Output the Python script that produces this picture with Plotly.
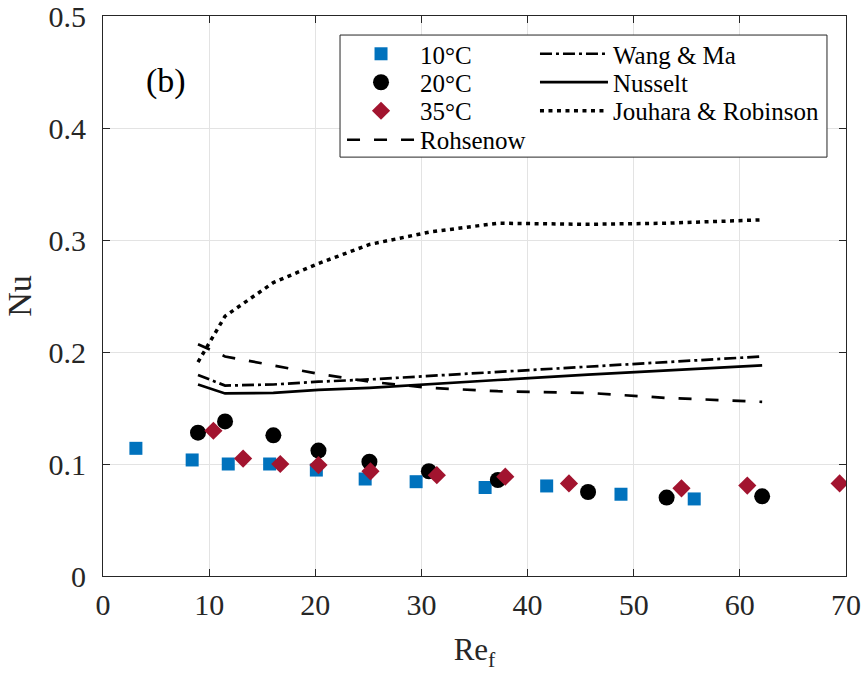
import plotly.graph_objects as go

# ---- data ----
re_10 = [3.1, 8.4, 11.8, 15.7, 20.1, 24.7, 29.5, 36.0, 41.8, 48.8, 55.7]
nu_10 = [0.114, 0.1036, 0.100, 0.100, 0.0946, 0.0866, 0.0842, 0.079, 0.0804, 0.073, 0.0688]

re_20 = [8.95, 11.5, 16.05, 20.3, 25.1, 30.7, 37.2, 45.7, 53.1, 62.1]
nu_20 = [0.128, 0.138, 0.1256, 0.112, 0.102, 0.0935, 0.0857, 0.075, 0.070, 0.0711]

re_35 = [10.4, 13.2, 16.7, 20.3, 25.2, 31.45, 37.9, 43.9, 54.5, 60.7, 69.4]
nu_35 = [0.1297, 0.1048, 0.100, 0.099, 0.0935, 0.090, 0.0887, 0.0827, 0.0783, 0.0807, 0.0827]

re_model = [8.95, 11.5, 16.05, 20.3, 25.1, 30.7, 37.2, 45.7, 53.1, 62.1]
nu_rohsenow = [0.207, 0.196, 0.188, 0.1805, 0.1735, 0.168, 0.165, 0.1635, 0.159, 0.1555]
nu_wang_ma = [0.1795, 0.170, 0.171, 0.1735, 0.1755, 0.1785, 0.182, 0.187, 0.191, 0.196]
nu_nusselt = [0.171, 0.163, 0.1635, 0.1662, 0.168, 0.171, 0.175, 0.1798, 0.1835, 0.188]
nu_jouhara = [0.191, 0.232, 0.262, 0.279, 0.296, 0.307, 0.315, 0.314, 0.315, 0.318]

x_ticks = [0, 10, 20, 30, 40, 50, 60, 70]
y_ticks = [0, 0.1, 0.2, 0.3, 0.4, 0.5]

FONT = "Liberation Serif, Times New Roman, Times, serif"
TXT = "#262626"

fig = go.Figure()

# model lines
fig.add_trace(go.Scatter(x=re_model, y=nu_wang_ma, mode="lines", name="Wang & Ma",
                         line=dict(color="black", width=2.7, dash="12px,4px,3px,4px"),
                         legend="legend5"))
fig.add_trace(go.Scatter(x=re_model, y=nu_nusselt, mode="lines", name="Nusselt",
                         line=dict(color="black", width=2.7), legend="legend6"))
fig.add_trace(go.Scatter(x=re_model, y=nu_jouhara, mode="lines", name="Jouhara & Robinson",
                         line=dict(color="black", width=3.5, dash="4px,4.5px"), legend="legend7"))

# experimental data
fig.add_trace(go.Scatter(x=re_10, y=nu_10, mode="markers", name="10°C",
                         marker=dict(symbol="square", size=13, color="#0072BD"), legend="legend"))
fig.add_trace(go.Scatter(x=re_20, y=nu_20, mode="markers", name="20°C",
                         marker=dict(symbol="circle", size=16, color="black"), legend="legend2"))
fig.add_trace(go.Scatter(x=re_35, y=nu_35, mode="markers", name="35°C",
                         marker=dict(symbol="diamond", size=14, color="#A2142F"), legend="legend3"))
fig.add_trace(go.Scatter(x=re_model, y=nu_rohsenow, mode="lines", name="Rohsenow",
                         line=dict(color="black", width=2.7, dash="13px,14px"), legend="legend4"))

axis_common = dict(
    showline=True, linecolor=TXT, linewidth=1, mirror="ticks",
    ticks="inside", ticklen=7, tickcolor=TXT,
    showgrid=True, gridcolor="#e3e3e3", gridwidth=1,
    zeroline=False, automargin=False, ticklabeloverflow="allow",
    tickfont=dict(family=FONT, size=30, color=TXT),
)

def leg(x, y):
    return dict(x=x, y=y, xanchor="left", yanchor="middle", visible=True,
                bgcolor="rgba(0,0,0,0)", borderwidth=0, itemwidth=68,
                font=dict(family=FONT, size=25, color="black"))

col1_x, col2_x = 0.3217, 0.5814
row_y = [0.9321, 0.8813, 0.8304, 0.7786]

fig.update_layout(
    width=862, height=681,
    showlegend=True,
    margin=dict(l=103, r=16, t=16, b=105),
    paper_bgcolor="white", plot_bgcolor="white",
    font=dict(family=FONT, color=TXT),
    xaxis=dict(range=[0, 70], tickvals=x_ticks, ticklabelstandoff=2,
               title=dict(text="Re<sub>f</sub>", font=dict(family=FONT, size=31, color=TXT), standoff=18),
               **axis_common),
    yaxis=dict(range=[0, 0.5], tickvals=y_ticks, ticktext=[str(v) for v in y_ticks],
               ticklabelstandoff=10,
               title=dict(text="Nu", font=dict(family=FONT, size=34, color=TXT), standoff=6),
               **axis_common),
    legend=leg(col1_x, row_y[0]),
    legend2=leg(col1_x, row_y[1]),
    legend3=leg(col1_x, row_y[2]),
    legend4=leg(col1_x, row_y[3]),
    legend5=leg(col2_x, row_y[0]),
    legend6=leg(col2_x, row_y[1]),
    legend7=leg(col2_x, row_y[2]),
    shapes=[dict(type="rect", xref="paper", yref="paper",
                 x0=0.319, x1=0.9744, y0=0.748, y1=0.966,
                 line=dict(color=TXT, width=1), fillcolor="white", layer="above")],
    annotations=[dict(x=5.9, y=0.442, xref="x", yref="y", text="(b)", showarrow=False,
                      font=dict(family=FONT, size=34, color="black"))],
)

fig.write_html("out.html")
